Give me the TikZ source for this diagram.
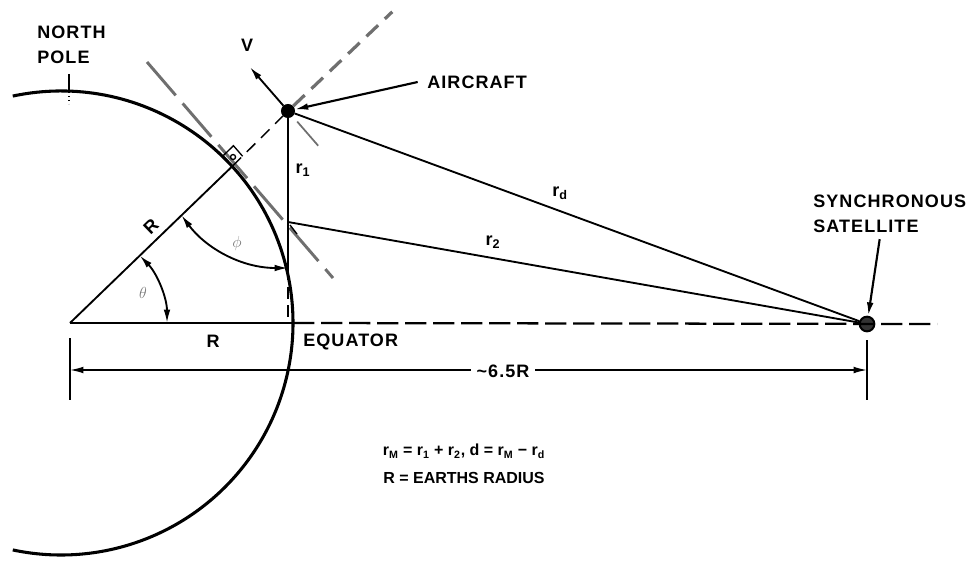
\documentclass[tikz,border=0pt]{standalone}
\usepackage{fontspec}
\setmainfont{Liberation Sans}
\usepackage{xcolor}
\usepackage{tikz}
\usetikzlibrary{positioning,arrows.meta,calc}
\definecolor{GuideGray}{HTML}{6F6F6F}
\definecolor{AngleGray}{HTML}{7A7A7A}

\tikzset{
  lbl/.style={inner sep=0pt, font=\fontsize{13.5}{18.75}\selectfont\bfseries\addfontfeatures{LetterSpace=6}},
  line/.style={line width=1.4pt},
  tip/.style={-{Latex[length=10pt,width=5pt]}},
  twotips/.style={{Latex[length=10pt,width=5pt]}-{Latex[length=10pt,width=5pt]}},
}

\begin{document}
\begin{tikzpicture}[x=0.75pt,y=-0.75pt]
        \useasboundingbox[fill=white] (0,0) rectangle (970,563);
        \coordinate (earth) at (61,323);
        \coordinate (C) at (70,323);
        \coordinate (P) at ($(C)+(-44:226)$);
        \coordinate (Q) at ($(C)+(-44:155)$);
        \coordinate (M) at (288,222);
        \coordinate (G) at (288,268);
        \coordinate (F) at (288,323);
        \coordinate (T1) at (147,62);
        \coordinate (T2) at (333,278);
        \coordinate (far) at ($(C)+(-44:448)$);
        \node[circle, draw, fill=black, line width=1.5pt, inner sep=0pt, minimum size=9pt] (aircraft) at (288,111) {};
        \node[circle, draw, fill=black!80, line width=1.5pt, inner sep=0pt, minimum size=11pt] (sat) at (867,324) {};
        \coordinate (vtip) at ($(aircraft)+(-131:58)$);

        \draw[line width=2.3pt] (earth) ++(-102:232) arc[start angle=-102, end angle=102, radius=232];
        \draw[GuideGray, line width=2.2pt, dash pattern=on 33pt off 8pt] (T1) -- (T2);

        \draw[line] (C) -- (P);
        \draw[line width=1.1pt, dash pattern=on 9pt off 6pt] (P) -- (aircraft);
        \draw[GuideGray, line width=2.4pt, dash pattern=on 12pt off 7pt] (aircraft) -- (far);
        \draw[line width=1pt] ($(P)+(-44:14)$) -- ($(P)+(-44:14)+(-131:14)$) -- ($(P)+(-131:14)$);
        \draw[line width=1pt] ($(P)+(-87:9)$) circle[radius=2.5];

        \draw[line] (C) -- (293,323);
        \draw[line width=1.7pt, dash pattern=on 16pt off 5pt] (293,323) -- (937,324);

        \draw[line] (aircraft) -- (G);
        \draw[line, dash pattern=on 9pt off 5pt] (G) -- (F);
        \draw[line] (M) -- (sat);
        \draw[line] (aircraft) -- (sat);
        \draw[line width=1pt] (M) ++(2,3) -- ++(7,9);

        \draw[tip, line width=1.4pt] (aircraft) -- (vtip);
        \draw[GuideGray, line width=1.3pt] ($(aircraft)+(49:14)$) -- ($(aircraft)+(49:46)$);

        \draw[line, twotips] ($(C)+(-44:97)$) arc[start angle=-44, end angle=0, radius=97];
        \draw[line, twotips] (Q) .. controls (205,247) and (240,268) .. (G);
        \node[AngleGray, font=\large] (theta) at (143,293) {$\theta$};
        \node[AngleGray, font=\large] (phi) at (237,243) {$\phi$};

        \node[lbl, align=left, anchor=west] (pole) at (37,45) {NORTH\\POLE};
        \draw[line width=1pt] (69,74) -- (69,92);
        \draw[line width=1pt, dotted] (69,92) -- (69,104);

        \node[lbl] (vel) at (247,45) {V};
        \node[lbl, anchor=west] (airlbl) at (427,82) {AIRCRAFT};
        \draw[tip, line width=1.6pt] ([xshift=-7pt]airlbl.west) -- (aircraft);

        \node[lbl, align=left, anchor=west] (satlbl) at (813,214) {SYNCHRONOUS\\SATELLITE};
        \draw[tip, line width=1.6pt] ($(satlbl.south)+(-10,6)$) -- (sat);

        \node[lbl, rotate=44] (rad) at (151,227) {R};
        \node[lbl] (base) at (213,341) {R};
        \node[lbl, anchor=west] (eq) at (303,342) {EQUATOR};
        \node[lbl] (rone) at (303,170) {r\textsubscript{1}};
        \node[lbl] (rdir) at (560,193) {r\textsubscript{d}};
        \node[lbl] (rtwo) at (493,242) {r\textsubscript{2}};

        \draw[line width=1pt] (70,338) -- (70,400);
        \draw[line width=1pt] (867,340) -- (867,400);
        \draw[twotips, line width=1.1pt] (70,370) -- (867,370);
        \node[lbl, fill=white, inner xsep=4pt, inner ysep=2pt] (span) at (503,371) {\textasciitilde6.5R};

        \node[font=\fontsize{12}{21}\selectfont\bfseries, align=center] (note) at (464,464)
          {r\textsubscript{M} = r\textsubscript{1} + r\textsubscript{2}, d = r\textsubscript{M} − r\textsubscript{d}\\R = EARTHS RADIUS};
\end{tikzpicture}
\end{document}
